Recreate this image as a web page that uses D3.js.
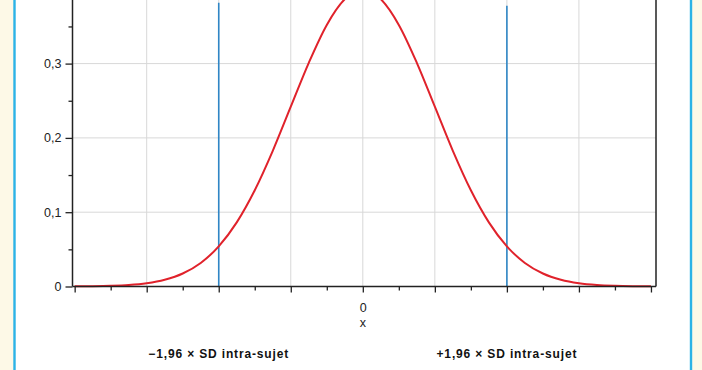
<!DOCTYPE html>
<html><head><meta charset="utf-8">
<script src="https://cdn.jsdelivr.net/npm/d3@7"></script>
<style>html,body{margin:0;padding:0;background:#fdf9e7;}svg{display:block;}</style>
</head><body>
<script>
// Data
const xValues = [-4,-3.75,-3.5,-3.25,-3,-2.75,-2.5,-2.25,-2,-1.75,-1.5,-1.25,-1,-0.75,-0.5,-0.25,0,0.25,0.5,0.75,1,1.25,1.5,1.75,2,2.25,2.5,2.75,3,3.25,3.5,3.75,4];
const densityValues = [0.0002,0.0004,0.0009,0.0020,0.0044,0.0091,0.0175,0.0317,0.0540,0.0863,0.1295,0.1826,0.2420,0.3011,0.3521,0.3867,0.3989,0.3867,0.3521,0.3011,0.2420,0.1826,0.1295,0.0863,0.0540,0.0317,0.0175,0.0091,0.0044,0.0020,0.0009,0.0004,0.0002];
const limitPositions = [-2, 2];
const limitTops = [0.382, 0.378];
const limitLabels = ["\u22121,96 \u00d7 SD intra-sujet", "+1,96 \u00d7 SD intra-sujet"];
const yTickValues = [0, 0.1, 0.2, 0.3];
const yTickLabels = ["0", "0,1", "0,2", "0,3"];
const yMinorTicks = [0.05, 0.15, 0.25, 0.35];
const xGridValues = [-3, -2, -1, 0, 1, 2, 3];
const xMajorTicks = [-4, -3, -2, -1, 0, 1, 2, 3, 4];
const xMinorTicks = [-3.5, -2.5, -1.5, -0.5, 0.5, 1.5, 2.5, 3.5];
const xTickLabels = {"0": "0"};
const xAxisTitle = "x";

(function () {
const W = 702, H = 370;
const svg = d3.select("body").append("svg").attr("width", W).attr("height", H);

// panel
svg.append("rect").attr("x",0).attr("y",0).attr("width",W).attr("height",H).attr("fill","#fdf9e7");
svg.append("rect").attr("x",14.5).attr("y",-5).attr("width",676.5).attr("height",H+10)
  .attr("fill","#ffffff").attr("stroke","#2cb3e6").attr("stroke-width",2.4);

const plotLeft = 72.5, plotRight = 656, plotBottom = 286.5;
const x = d3.scaleLinear().domain([-4.03, 4.07]).range([plotLeft, plotRight]);
const y = d3.scaleLinear().domain([0, 0.4]).range([plotBottom, plotBottom - 0.4 * 743]);
const plotTop = y(0.41);

const g = svg.append("g");

// grid
g.selectAll(".hg").data(yTickValues.filter(v => v > 0)).join("line")
  .attr("x1", plotLeft).attr("x2", plotRight).attr("y1", d => y(d)).attr("y2", d => y(d))
  .attr("stroke", "#d8d8d8").attr("stroke-width", 1);
g.selectAll(".vg").data(xGridValues).join("line")
  .attr("x1", d => x(d)).attr("x2", d => x(d)).attr("y1", plotTop).attr("y2", plotBottom)
  .attr("stroke", "#d8d8d8").attr("stroke-width", 1);

// limit lines
g.selectAll(".lim").data(limitPositions).join("line")
  .attr("x1", d => x(d)).attr("x2", d => x(d))
  .attr("y1", (d, i) => y(limitTops[i])).attr("y2", plotBottom)
  .attr("stroke", "#2f86c6").attr("stroke-width", 1.6);

// curve
const pts = xValues.map((v, i) => [v, densityValues[i]]);
g.append("path").datum(pts)
  .attr("d", d3.line().x(d => x(d[0])).y(d => y(d[1])).curve(d3.curveMonotoneX))
  .attr("fill", "none").attr("stroke", "#e0222b").attr("stroke-width", 2);

// frame right
g.append("line").attr("x1", plotRight).attr("x2", plotRight).attr("y1", plotTop).attr("y2", plotBottom)
  .attr("stroke", "#222").attr("stroke-width", 1.5);

// y axis
const yAxis = d3.axisLeft(y).tickValues(yTickValues).tickSize(7).tickPadding(4)
  .tickFormat((d, i) => yTickLabels[i]);
const ya = g.append("g").attr("transform", `translate(${plotLeft},0)`).call(yAxis);
ya.select(".domain").attr("d", `M0,${plotTop}V${plotBottom}`).attr("stroke", "#222").attr("stroke-width", 1.5);
ya.selectAll(".tick line").attr("stroke", "#222").attr("stroke-width", 1.3);
ya.selectAll(".tick text").attr("font-family", "Liberation Sans, Arial, sans-serif")
  .attr("font-size", "12.5px").attr("fill", "#222");
const yMinor = d3.axisLeft(y).tickValues(yMinorTicks).tickSize(4).tickFormat("");
const ym = g.append("g").attr("transform", `translate(${plotLeft},0)`).call(yMinor);
ym.select(".domain").remove();
ym.selectAll(".tick line").attr("stroke", "#222").attr("stroke-width", 1.3);

// x axis
const xAxis = d3.axisBottom(x).tickValues(xMajorTicks).tickSize(6).tickPadding(11)
  .tickFormat(d => xTickLabels[String(d)] || "");
const xa = g.append("g").attr("transform", `translate(0,${plotBottom})`).call(xAxis);
xa.select(".domain").attr("d", `M${plotLeft},0H${plotRight}`).attr("stroke", "#222").attr("stroke-width", 1.5);
xa.selectAll(".tick line").attr("stroke", "#222").attr("stroke-width", 1.3);
xa.selectAll(".tick text").attr("font-family", "Liberation Sans, Arial, sans-serif")
  .attr("font-size", "12.5px").attr("fill", "#222");
const xMinor = d3.axisBottom(x).tickValues(xMinorTicks).tickSize(4).tickFormat("");
const xm = g.append("g").attr("transform", `translate(0,${plotBottom})`).call(xMinor);
xm.select(".domain").remove();
xm.selectAll(".tick line").attr("stroke", "#222").attr("stroke-width", 1.3);

g.append("text").attr("x", x(0)).attr("y", 327).attr("text-anchor", "middle")
  .attr("font-family", "Liberation Sans, Arial, sans-serif").attr("font-size", "12.5px")
  .attr("fill", "#222").text(xAxisTitle);

// bottom labels
g.selectAll(".ll").data(limitPositions).join("text")
  .attr("x", d => x(d)).attr("y", 358).attr("text-anchor", "middle")
  .attr("font-family", "Liberation Sans, Arial, sans-serif").attr("font-weight", "bold")
  .attr("font-size", "12px").attr("letter-spacing", "0.85px").attr("fill", "#111")
  .text((d, i) => limitLabels[i]);
})();
</script>
</body></html>
